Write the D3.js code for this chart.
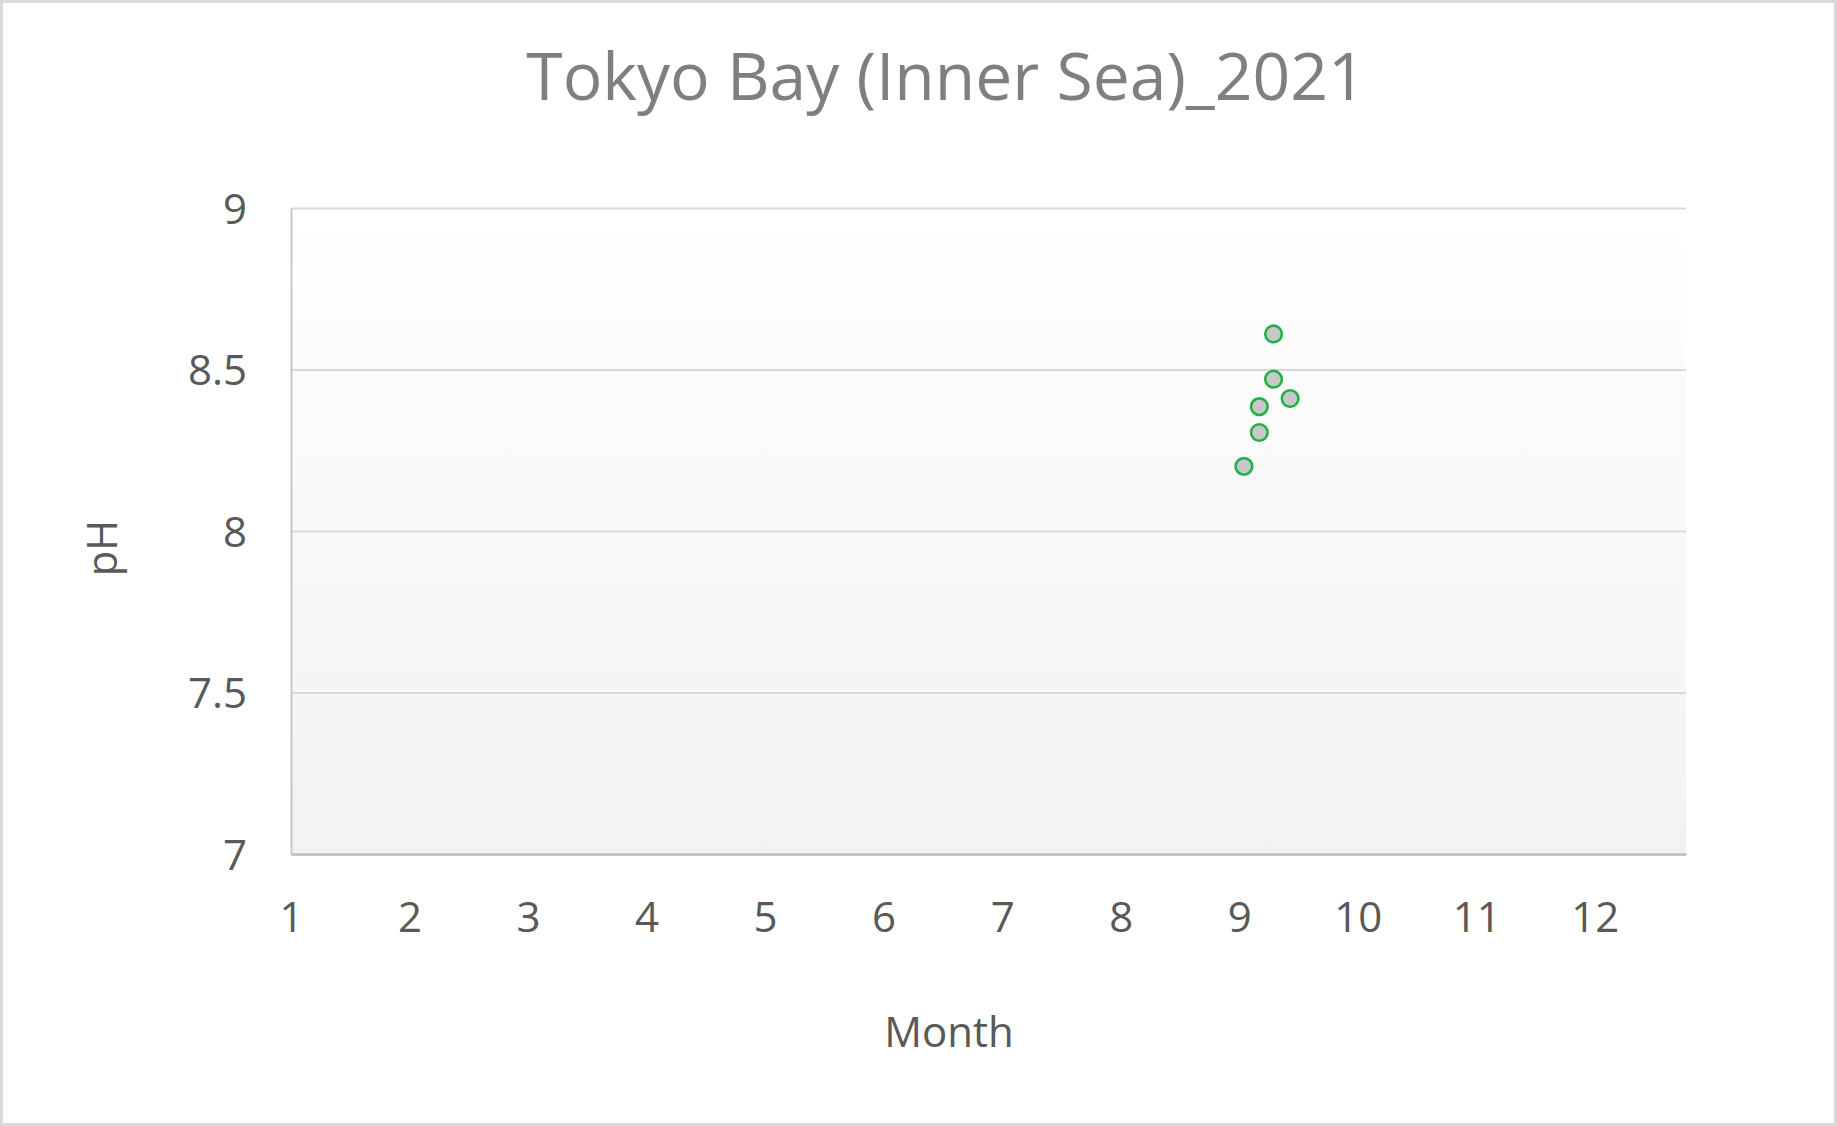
<!DOCTYPE html>
<html>
<head>
<meta charset="utf-8">
<script src="https://cdn.jsdelivr.net/npm/d3@7"></script>
<style>
  html, body { margin: 0; padding: 0; background: #ffffff; }
  svg { display: block; }
  text { font-family: "Open Sans", "Noto Sans", sans-serif; }
</style>
</head>
<body>
<svg id="chart" width="1837" height="1126"></svg>
<script>
// ---- data ----
const chartTitle = "Tokyo Bay (Inner Sea)_2021";
const xTitle = "Month";
const yTitle = "pH";
const months = [9.29, 9.29, 9.43, 9.17, 9.17, 9.04];
const phValues = [8.61, 8.47, 8.41, 8.385, 8.305, 8.20];
const xTicks = [1, 2, 3, 4, 5, 6, 7, 8, 9, 10, 11, 12];
const yTicks = [7, 7.5, 8, 8.5, 9];
const xDomain = [1, 12.77];
const yDomain = [7, 9];

// ---- layout ----
const W = 1837, H = 1126;
const plot = { left: 291, top: 208, right: 1686, bottom: 854 };

const svg = d3.select("#chart");

// outer border
svg.append("rect")
  .attr("x", 1.5).attr("y", 1.5)
  .attr("width", W - 3).attr("height", H - 3)
  .attr("fill", "#ffffff")
  .attr("stroke", "#d9d9d9").attr("stroke-width", 3);

// gradient
const defs = svg.append("defs");
const grad = defs.append("linearGradient")
  .attr("id", "plotBg").attr("x1", 0).attr("y1", 0).attr("x2", 0).attr("y2", 1);
grad.append("stop").attr("offset", "0%").attr("stop-color", "#ffffff");
grad.append("stop").attr("offset", "100%").attr("stop-color", "#f2f2f2");

const x = d3.scaleLinear().domain(xDomain).range([plot.left, plot.right]);
const y = d3.scaleLinear().domain(yDomain).range([plot.bottom, plot.top]);

svg.append("rect")
  .attr("x", plot.left).attr("y", plot.top)
  .attr("width", plot.right - plot.left).attr("height", plot.bottom - plot.top)
  .attr("fill", "url(#plotBg)");

// gridlines
const grid = svg.append("g")
  .attr("transform", `translate(${plot.left},0)`)
  .call(d3.axisLeft(y).tickValues(yTicks).tickSize(-(plot.right - plot.left)).tickFormat(""));
grid.select(".domain").remove();
grid.selectAll(".tick line").attr("stroke", "#d9d9d9").attr("stroke-width", 2);

// y axis line + labels
const yAxis = svg.append("g")
  .attr("transform", `translate(${plot.left},0)`)
  .call(d3.axisLeft(y).tickValues(yTicks).tickSize(0).tickPadding(44)
        .tickFormat(d => d3.format("")(d)));
yAxis.select(".domain").attr("stroke", "#c8c8c8").attr("stroke-width", 2);
yAxis.selectAll(".tick text")
  .attr("fill", "#595959").attr("font-size", 42).attr("dy", "0.36em");

// x axis
const xAxis = svg.append("g")
  .attr("transform", `translate(0,${plot.bottom})`)
  .call(d3.axisBottom(x).tickValues(xTicks).tickSize(0).tickPadding(48));
xAxis.select(".domain").attr("stroke", "#bfbfbf").attr("stroke-width", 2.5);
xAxis.selectAll(".tick text")
  .attr("fill", "#595959").attr("font-size", 42).attr("dy", "0.71em");

// points
svg.append("g").selectAll("circle")
  .data(months.map((m, i) => ({ m, v: phValues[i] })))
  .join("circle")
  .attr("cx", d => x(d.m))
  .attr("cy", d => y(d.v))
  .attr("r", 8.3)
  .attr("fill", "#c8c8c8")
  .attr("stroke", "#1fb24a")
  .attr("stroke-width", 2.6);

// titles
svg.append("text")
  .attr("x", 946).attr("y", 100)
  .attr("text-anchor", "middle")
  .attr("font-size", 66)
  .attr("fill", "#7f7f7f")
  .text(chartTitle);

svg.append("text")
  .attr("x", 949).attr("y", 1047)
  .attr("text-anchor", "middle")
  .attr("font-size", 42)
  .attr("fill", "#595959")
  .text(xTitle);

svg.append("text")
  .attr("transform", "translate(117,548) rotate(-90)")
  .attr("text-anchor", "middle")
  .attr("font-size", 42)
  .attr("fill", "#595959")
  .text(yTitle);
</script>
</body>
</html>
